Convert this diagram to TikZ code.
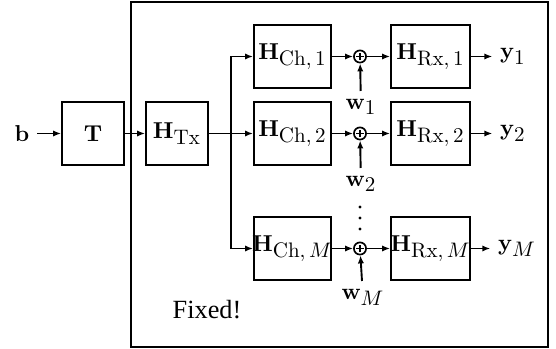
\documentclass[tikz,border=0pt]{standalone}
\usepackage[no-math]{fontspec}
\newfontfamily\fixedfont{Liberation Serif}
\usetikzlibrary{arrows.meta}
\newcommand\subtx[1]{\hbox{\fontsize{10.3pt}{12pt}\selectfont$#1$}}
\newcommand\ctr[1]{\makebox[0pt]{#1}}
\begin{document}
\begin{tikzpicture}[x=0.476pt,y=-0.476pt,line width=0.9pt,
  >={Latex[length=3.8pt,width=3pt]},
  every node/.style={font=\fontsize{11pt}{13pt}\selectfont},
  blk/.style={draw,inner sep=0pt,minimum height=30pt},
  sqbox/.style={blk,minimum width=29.5pt},
  chbox/.style={blk,minimum width=36.7pt},
  rxbox/.style={blk,minimum width=37.6pt},
  lbl/.style={inner sep=3.3pt},
  dotpt/.style={circle,fill,inner sep=0pt,minimum size=1.5pt},
  sum/.style={circle,draw,minimum size=5.8pt,inner sep=0pt,line width=0.8pt,
    path picture={\draw[line width=0.8pt]
      ([xshift=-1.7pt]path picture bounding box.center) -- ([xshift=1.7pt]path picture bounding box.center)
      ([yshift=-1.7pt]path picture bounding box.center) -- ([yshift=1.7pt]path picture bounding box.center);}}]
\useasboundingbox (0,0) rectangle (556,349);
\draw (131,2) rectangle (548,347);
% nodes
\node[lbl] (b) at (22,133.5) {$\mathbf{b}$};
\node[sqbox] (T) at (93,133.5) {$\mathbf{T}$};
\node[sqbox] (Tx) at (177,133.5) {\ctr{$\mathbf{H}_{\subtx{\mathrm{Tx}}}$}};
\coordinate (br) at (231,133.5);
\node[chbox] (ch1) at (292.5,56.5) {\ctr{$\mathbf{H}_{\subtx{\mathrm{Ch},1}}$}};
\node[chbox] (ch2) at (292.5,133.5) {\ctr{$\mathbf{H}_{\subtx{\mathrm{Ch},2}}$}};
\node[chbox] (chM) at (292.5,248.5) {\ctr{$\mathbf{H}_{\subtx{\mathrm{Ch},M}}$}};
\node[sum] (s1) at (360,56.5) {};
\node[sum] (s2) at (360,133.5) {};
\node[sum] (sM) at (360,248.5) {};
\node[rxbox] (rx1) at (430.5,56.5) {\ctr{$\mathbf{H}_{\subtx{\mathrm{Rx},1}}$}};
\node[rxbox] (rx2) at (430.5,133.5) {\ctr{$\mathbf{H}_{\subtx{\mathrm{Rx},2}}$}};
\node[rxbox] (rxM) at (430.5,248.5) {\ctr{$\mathbf{H}_{\subtx{\mathrm{Rx},M}}$}};
\node[lbl] (y1) at (513,56.5) {$\mathbf{y}_{\subtx{1}}$};
\node[lbl] (y2) at (513,133.5) {$\mathbf{y}_{\subtx{2}}$};
\node[lbl] (yM) at (517,248.5) {$\mathbf{y}_{\subtx{M}}$};
\node[lbl,anchor=north] (w1) at (361,91) {$\mathbf{w}_{\subtx{1}}$};
\node[lbl,anchor=north] (w2) at (361,168) {$\mathbf{w}_{\subtx{2}}$};
\node[lbl,anchor=north] (wM) at (363,281) {$\mathbf{w}_{\subtx{M}}$};
\node[dotpt] (d1) at (360,207) {};
\node[dotpt] (d2) at (360,218) {};
\node[dotpt] (d3) at (360,229) {};
\node[font=\fixedfont\fontsize{12.5pt}{14pt}\selectfont] (fixed) at (207,310) {Fixed!};
% connectors
\draw[->] (b) -- (T);
\draw[->] (T) -- (Tx);
\draw (Tx) -- (br);
\draw[->] (br) |- (ch1.west);
\draw[->] (br) -- (ch2);
\draw[->] (br) |- (chM.west);
\foreach \r in {1,2,M}{
  \draw[->] (ch\r) -- (s\r);
  \draw[->] (s\r) -- (rx\r);
  \draw[->] (rx\r) -- (y\r);
  \draw[->] (w\r) -- (s\r);
}
\end{tikzpicture}
\end{document}
